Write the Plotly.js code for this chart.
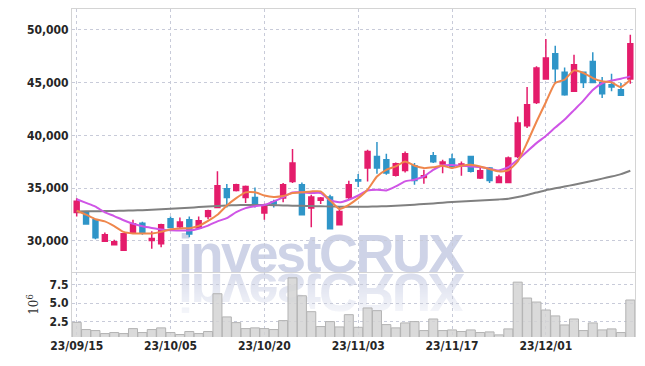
<!DOCTYPE html>
<html>
<head>
<meta charset="utf-8">
<script src="https://cdn.plot.ly/plotly-3.0.1.min.js"></script>
<style>
html,body{margin:0;padding:0;background:#fff;}
#wrap{position:relative;width:645px;height:366px;}
#wm{position:absolute;left:0;top:0;z-index:0;}
#chart{position:absolute;left:0;top:0;width:645px;height:366px;z-index:1;}
</style>
</head>
<body>
<div id="wrap">
<svg id="wm" width="645" height="366" xmlns="http://www.w3.org/2000/svg">
  <defs>
    <linearGradient id="fadeG" gradientUnits="userSpaceOnUse" x1="0" y1="272" x2="0" y2="328">
      <stop offset="0" stop-color="#fff" stop-opacity="0.8"/>
      <stop offset="1" stop-color="#fff" stop-opacity="0"/>
    </linearGradient>
    <mask id="fadeM" maskUnits="userSpaceOnUse" x="0" y="0" width="645" height="366">
      <rect x="0" y="272" width="645" height="70" fill="url(#fadeG)"/>
    </mask>
  </defs>
  <text x="178" y="272" font-family="Liberation Sans, Arial, sans-serif" font-weight="bold" font-size="54" letter-spacing="-2.5" fill="#ced3e7">investCRUX</text>
  <g mask="url(#fadeM)">
    <text x="178" y="272" transform="translate(0,546) scale(1,-1)" font-family="Liberation Sans, Arial, sans-serif" font-weight="bold" font-size="54" letter-spacing="-2.5" fill="#ced3e7">investCRUX</text>
  </g>
</svg>
<div id="chart"></div>
</div>
<script>
const dates = ["23/09/15","23/09/18","23/09/19","23/09/20","23/09/21","23/09/22","23/09/25","23/09/26","23/09/27","23/10/04",
"23/10/05","23/10/06","23/10/10","23/10/11","23/10/12","23/10/13","23/10/16","23/10/17","23/10/18","23/10/19",
"23/10/20","23/10/23","23/10/24","23/10/25","23/10/26","23/10/27","23/10/30","23/10/31","23/11/01","23/11/02",
"23/11/03","23/11/06","23/11/07","23/11/08","23/11/09","23/11/10","23/11/13","23/11/14","23/11/15","23/11/16",
"23/11/17","23/11/20","23/11/21","23/11/22","23/11/23","23/11/24","23/11/27","23/11/28","23/11/29","23/11/30",
"23/12/01","23/12/04","23/12/05","23/12/06","23/12/07","23/12/08","23/12/11","23/12/12","23/12/13","23/12/14"];

const openP = [32700,32700,32000,29950,29630,29100,30740,31680,30040,29720,
32100,31340,32000,31210,32320,33170,34940,34780,34120,34120,
32630,33700,34060,35640,35320,33110,33840,34150,31530,34120,
35800,36900,38010,37690,36210,36680,37120,36020,38070,37280,
37760,37120,38010,35950,36900,35540,35540,38010,40920,43130,
45350,47750,45980,44180,45980,47020,45030,44810,44340,45350];
const highP = [34050,32750,32050,30800,30100,30750,32000,31800,30900,31620,
32300,32220,32300,32300,32950,36600,35390,35420,35260,35070,
33520,33900,35480,38700,35540,34370,34150,34370,33260,35700,
36330,38640,39370,38260,37440,38480,37380,36740,38420,37700,
38260,37530,38070,36900,37000,36270,38000,41800,44590,46550,
49140,48510,46450,47660,46070,47880,45540,45850,44970,49550];
const lowP = [32300,31550,30150,29900,29560,29090,30700,30580,29250,29400,
31200,31200,30350,31150,32060,33100,33170,34690,33580,33170,
32000,33170,33650,35480,32470,31300,33490,31150,31500,33900,
35100,35640,36360,36270,36110,36490,35320,35420,37380,36400,
36810,36170,36490,35860,35480,35480,35500,37850,40700,42970,
45280,44970,43770,44110,44490,44970,43540,44180,43800,44900];
const closeP = [33750,31600,30300,30580,29910,30670,31620,30740,30230,31520,
31270,31780,30640,31900,32850,35230,34120,35320,35160,33420,
33420,33490,35320,37380,32470,34150,34060,31150,32790,35320,
35670,38480,36900,36430,37310,38260,35730,36170,37500,37470,
37060,37280,36590,36650,35730,36050,37850,41170,42910,46390,
47340,46330,43860,46710,45030,45030,43950,44590,43800,48700];

const ma5 = [32850,32480,32050,31850,31400,30850,30700,30700,30700,30850,
31100,31180,31200,31420,31900,32470,33350,34050,34600,34600,
34300,34170,34250,34530,34600,34690,34690,33840,33020,33420,
34050,34850,36100,36740,37060,37530,37120,36900,36970,37120,
36900,37120,37220,37060,36810,36590,36680,37530,39300,41300,
43150,44970,45280,46170,45920,45440,45130,45030,44590,45280];
const ma20 = [33950,33600,33250,32700,32350,31950,31620,31380,31220,31080,
31000,30980,30980,31150,31450,31850,32150,32720,33100,33280,
33400,33740,34150,34600,34600,34540,34540,33850,33650,33900,
34300,34780,34850,34780,35160,35640,35800,36110,36740,37150,
37200,37120,37060,37000,36840,36680,37000,37690,38480,39270,
39950,40750,41500,42400,43300,44300,44950,45200,45380,45600];
const ma60 = [32790,32800,32810,32820,32840,32860,32880,32910,32950,33000,
33050,33100,33150,33200,33260,33310,33350,33380,33400,33410,
33400,33380,33360,33340,33320,33300,33280,33260,33240,33230,
33230,33240,33260,33290,33330,33380,33430,33490,33550,33620,
33680,33730,33780,33830,33880,33930,34000,34150,34350,34580,
34800,34980,35150,35330,35520,35700,35900,36100,36330,36650];

const volumeM = [2.36,1.37,1.23,0.82,0.96,0.82,1.50,0.96,1.37,1.60,
0.96,0.69,1.10,0.82,1.10,6.28,3.10,2.32,1.50,1.60,
1.50,1.37,2.60,8.46,6.00,3.82,1.78,2.46,1.73,3.41,
1.68,4.33,3.96,2.05,1.60,2.28,2.46,1.23,2.82,1.23,
1.32,1.10,1.32,0.96,1.05,0.64,1.46,7.87,5.69,5.14,
4.05,3.24,2.00,2.82,1.23,2.28,1.32,1.46,0.96,5.42];

const tickDates = ["23/09/15","23/10/05","23/10/20","23/11/03","23/11/17","23/12/01"];
const priceTicks = [30000,35000,40000,45000,50000];
const volTicks = [2.5,5.0,7.5];

const UP = '#e41c6b', DOWN = '#2f95c8';
const GRID = '#c8cbd9';
const tickFont = {family:'DejaVu Sans Condensed, sans-serif', size:12, color:'#262626', weight:'bold'};

const traces = [
  {type:'candlestick', x:dates, open:openP, high:highP, low:lowP, close:closeP,
   xaxis:'x', yaxis:'y', whiskerwidth:0,
   increasing:{line:{color:UP,width:1.5}, fillcolor:UP},
   decreasing:{line:{color:DOWN,width:1.5}, fillcolor:DOWN}, showlegend:false, hoverinfo:'skip'},
  {type:'scatter', mode:'lines', x:dates, y:ma60, xaxis:'x', yaxis:'y', line:{color:'#808080', width:2, shape:'spline', smoothing:0.6}, hoverinfo:'skip'},
  {type:'scatter', mode:'lines', x:dates, y:ma20, xaxis:'x', yaxis:'y', line:{color:'#cf55e6', width:2, shape:'spline', smoothing:0.5}, hoverinfo:'skip'},
  {type:'scatter', mode:'lines', x:dates, y:ma5, xaxis:'x', yaxis:'y', line:{color:'#ef874c', width:2, shape:'spline', smoothing:0.5}, hoverinfo:'skip'},
  {type:'bar', x:dates, y:volumeM, xaxis:'x2', yaxis:'y2',
   marker:{color:'rgba(212,212,212,0.85)', line:{color:'#b3b3b3', width:1}}, hoverinfo:'skip'}
];

const layout = {
  width:645, height:366,
  margin:{l:72, r:10, t:9, b:29},
  paper_bgcolor:'rgba(0,0,0,0)', plot_bgcolor:'rgba(0,0,0,0)',
  showlegend:false, boxgap:0.25, bargap:0.04,
  xaxis:{type:'category', anchor:'y', domain:[0,1], range:[-0.5,59.5],
    tickvals:tickDates, showticklabels:false, showgrid:true, gridcolor:GRID, griddash:'dot', gridwidth:1,
    showline:true, mirror:true, linecolor:'#d4d4d4', linewidth:1, rangeslider:{visible:false}, ticks:'', fixedrange:true},
  yaxis:{domain:[0.198,1], anchor:'x', range:[27040,51990], tickvals:priceTicks, tickformat:',d',
    showgrid:true, gridcolor:GRID, griddash:'dot', gridwidth:1, zeroline:false,
    showline:true, mirror:true, linecolor:'#d4d4d4', linewidth:1, tickfont:tickFont, ticks:''},
  xaxis2:{type:'category', anchor:'y2', matches:'x', domain:[0,1], range:[-0.5,59.5],
    tickvals:tickDates, ticktext:tickDates, showgrid:true, gridcolor:GRID, griddash:'dot', gridwidth:1,
    showline:false, tickfont:tickFont, ticks:''},
  yaxis2:{domain:[0,0.198], anchor:'x2', range:[0.35,9.25], tickvals:volTicks, tickformat:'.1f',
    showgrid:true, gridcolor:GRID, griddash:'dot', gridwidth:1, zeroline:false,
    showline:true, mirror:true, linecolor:'#d4d4d4', linewidth:1, tickfont:tickFont, ticks:'',
    title:{text:'10<sup>6</sup>', font:{family:'DejaVu Serif, serif', size:12, color:'#333'}, standoff:8}}
};

Plotly.newPlot('chart', traces, layout, {staticPlot:true, displayModeBar:false});
</script>
</body>
</html>
